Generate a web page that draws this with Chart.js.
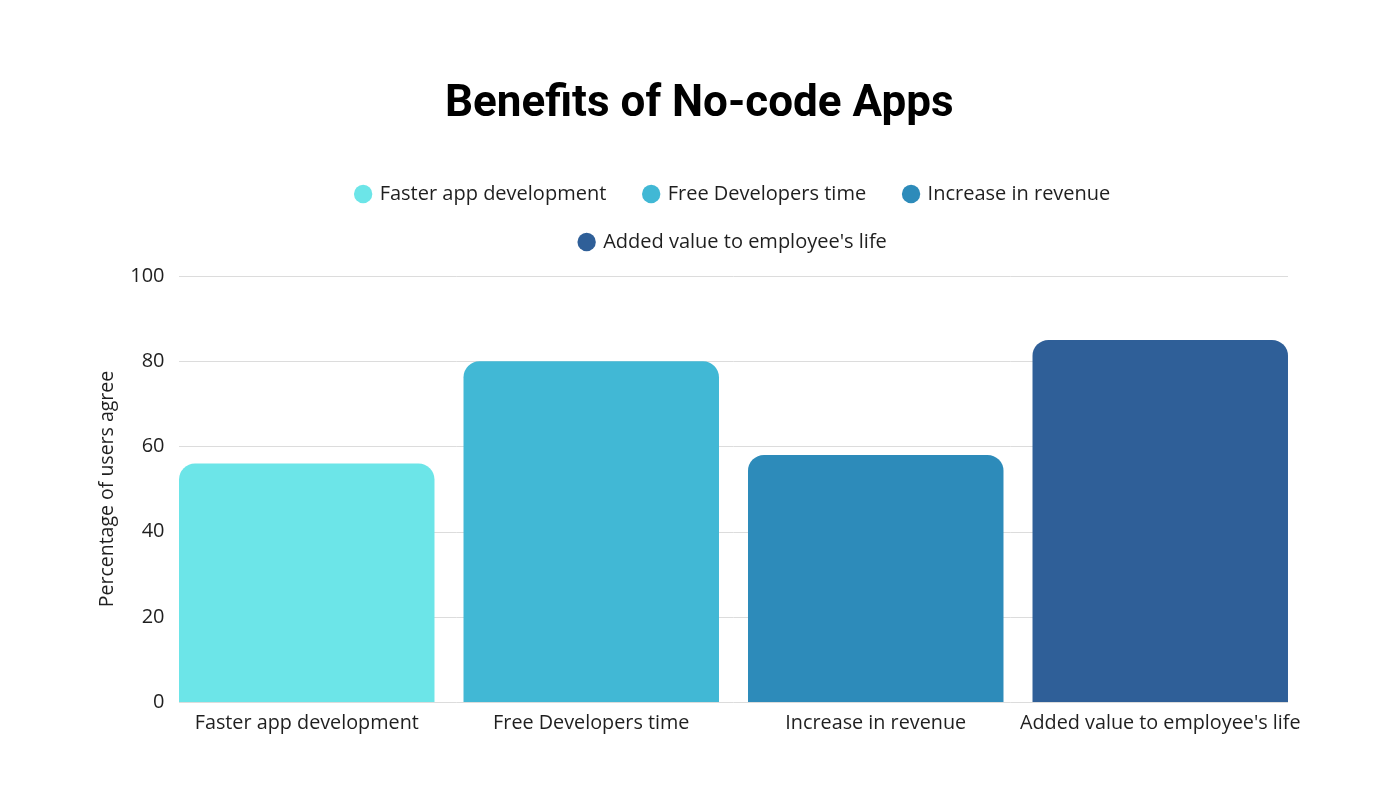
<!DOCTYPE html>
<html><head><meta charset="utf-8">
<script src="https://cdn.jsdelivr.net/npm/chart.js@4/dist/chart.umd.min.js"></script>
<style>html,body{margin:0;padding:0;background:#fff;} #wrap{width:1400px;height:800px;position:relative}</style>
</head><body><div id="wrap"><canvas id="c" width="1400" height="800"></canvas></div>
<script>
const categories = ['Faster app development', 'Free Developers time', 'Increase in revenue', "Added value to employee's life"];
const values = [56, 80, 58, 85];
const barColors = ['#6CE5E8', '#41B8D5', '#2D8BBA', '#2F5F98'];
const yTickValues = [0, 20, 40, 60, 80, 100];
const chartTitle = 'Benefits of No-code Apps';
const yAxisTitle = 'Percentage of users agree';

const FONT = '"Open Sans", sans-serif';
const TITLE_FONT = 'Roboto, sans-serif';
const TEXT = '#1f1f1f';

const gridPlugin = {
  id: 'barGrid',
  beforeDatasetsDraw(chart) {
    const meta = chart.getDatasetMeta(0);
    const first = meta.data[0], last = meta.data[meta.data.length - 1];
    const x0 = first.x - first.width / 2, x1 = last.x + last.width / 2;
    const ys = chart.scales.y, ctx = chart.ctx;
    ctx.save(); ctx.strokeStyle = '#dcdcdc'; ctx.lineWidth = 1;
    ys.ticks.forEach(t => {
      const py = Math.round(ys.getPixelForValue(t.value)) + 0.5;
      ctx.beginPath(); ctx.moveTo(x0, py); ctx.lineTo(x1, py); ctx.stroke();
    });
    ctx.restore();
  }
};
const legendPatch = {
  id: 'legendPatch',
  beforeLayout(chart) {
    const lg = chart.legend;
    if (lg && !lg._patched) {
      const orig = lg.update.bind(lg);
      lg.update = function (mw, mh, m) { orig(Math.min(mw, 1000), mh, m); this.height += 14; };
      lg._patched = true;
    }
  }
};

new Chart(document.getElementById('c'), {
  type: 'bar',
  data: {
    labels: categories,
    datasets: [{
      label: yAxisTitle,
      data: values,
      backgroundColor: barColors,
      borderRadius: 16,
      borderSkipped: 'start',
      categoryPercentage: 0.898,
      barPercentage: 1
    }]
  },
  options: {
    responsive: false,
    animation: false,
    devicePixelRatio: 1,
    layout: { padding: { left: 96, right: 97.5, top: 0, bottom: 0 } },
    plugins: {
      title: {
        display: true, text: chartTitle, color: '#000',
        font: { family: TITLE_FONT, size: 44, weight: 'bold', lineHeight: 1.2 },
        padding: { top: 78.6, bottom: 24.6 }
      },
      legend: {
        display: true, position: 'top', fullSize: false,
        labels: {
          usePointStyle: true, pointStyle: 'circle', boxWidth: 13, boxHeight: 13,
          padding: 28, color: TEXT,
          font: { family: FONT, size: 20 },
          generateLabels: () => categories.map((c, i) => ({
            text: (i < 2 ? c + '  ' : c), fillStyle: barColors[i], strokeStyle: barColors[i], lineWidth: 0,
            pointStyle: 'circle', hidden: false, index: i, fontColor: TEXT
          }))
        },
        onClick: () => {}
      },
      tooltip: { enabled: false }
    },
    scales: {
      x: {
        grid: { display: false, drawTicks: false },
        border: { display: false },
        ticks: { color: TEXT, font: { family: FONT, size: 19.8 }, padding: 9, maxRotation: 0, autoSkip: false },
        afterFit: (s) => { s.height = 98; }
      },
      y: {
        min: 0, max: 100,
        afterBuildTicks: (s) => { s.ticks = yTickValues.map(v => ({ value: v })); },
        grid: { display: false, drawTicks: false },
        border: { display: false },
        ticks: { color: TEXT, font: { family: FONT, size: 20 }, padding: 0 },
        title: { display: true, text: yAxisTitle, color: TEXT, font: { family: FONT, size: 19.5, lineHeight: 1.2 }, padding: { top: 0, bottom: 0 } },
        afterFit: (s) => { s.width = 68.5; }
      }
    }
  },
  plugins: [gridPlugin, legendPatch]
});
</script>
</body></html>
